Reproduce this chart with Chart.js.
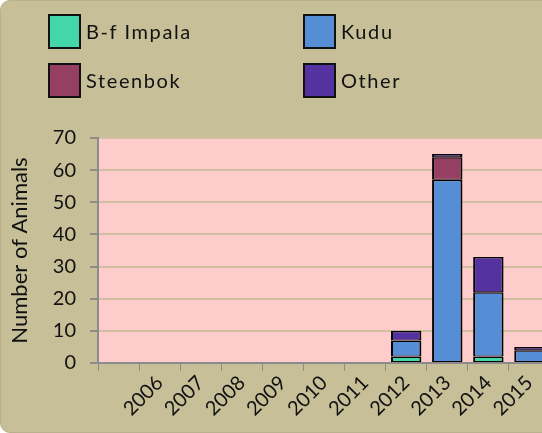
<!DOCTYPE html>
<html>
<head>
<meta charset="utf-8">
<script src="https://cdn.jsdelivr.net/npm/chart.js@4/dist/chart.umd.min.js"></script>
<style>
  html, body { margin: 0; padding: 0; background: #fff; overflow: hidden; }
  #frame {
    position: absolute; left: 0; top: 0; width: 600px; height: 431px;
    background: #c6bf98; border: 1px solid #b8b08a; border-radius: 10px; overflow: hidden;
  }
  #wrap { position: absolute; left: 0; top: 0; width: 560px; height: 433px; }
  .leg { position: absolute; font-family: Lato, sans-serif; font-size: 20px; color: #111; letter-spacing: 1.6px; }
  .leg span.box {
    position: absolute; left: 0; top: 0; width: 29px; height: 31px; border: 2px solid #111;
  }
  .leg span.txt { position: absolute; left: 38px; top: 5px; white-space: nowrap; }
</style>
</head>
<body>
<div id="frame">
  <div id="wrap"><canvas id="chartAnimals"></canvas></div>
  <div id="legend"></div>
</div>
<script>
// years along the x axis (first slot has no label)
var years = ['', '2006', '2007', '2008', '2009', '2010', '2011', '2012', '2013', '2014', '2015']
var impala = [null, null, null, null, null, null, null, 2, null, 2, null]
var kudu = [null, null, null, null, null, null, null, 5, 57, 20, 4]
var steenbok = [null, null, null, null, null, null, null, null, 7, null, null]
var other = [null, null, null, null, null, null, null, 3, 1, 11, 1]
var yTicks = [0, 10, 20, 30, 40, 50, 60, 70]

var seriesNames = ['B-f Impala', 'Kudu', 'Steenbok', 'Other']
var seriesColors = ['#42d6a8', '#558ed5', '#953f63', '#5432a0']

// legend in a 2x2 grid like the original
var legendPos = [[47, 13], [302, 13], [47, 62], [302, 62]]
var legendEl = document.getElementById('legend')
seriesNames.forEach(function (name, i) {
  var d = document.createElement('div')
  d.className = 'leg'
  d.style.left = legendPos[i][0] + 'px'
  d.style.top = legendPos[i][1] + 'px'
  d.innerHTML = '<span class="box" style="background:' + seriesColors[i] + '"></span><span class="txt">' + name + '</span>'
  legendEl.appendChild(d)
})

var plotBackground = {
  id: 'plotBackground',
  beforeDraw: function (chart) {
    var a = chart.chartArea
    var ctx = chart.ctx
    ctx.save()
    ctx.fillStyle = '#ffcccc'
    ctx.fillRect(a.left, a.top, a.right - a.left, a.bottom - a.top)
    ctx.restore()
  }
}

function makeSet(label, data, color) {
  return {
    label: label,
    data: data,
    backgroundColor: color,
    borderColor: '#000',
    borderWidth: { left: 2, right: 2, top: 1.5, bottom: 1 },
    borderSkipped: false,
    categoryPercentage: 1,
    barPercentage: 0.74
  }
}

var chartAnimalsCanvas = document.getElementById('chartAnimals').getContext('2d')
new Chart(chartAnimalsCanvas, {
  type: 'bar',
  data: {
    labels: years,
    datasets: [
      makeSet(seriesNames[0], impala, seriesColors[0]),
      makeSet(seriesNames[1], kudu, seriesColors[1]),
      makeSet(seriesNames[2], steenbok, seriesColors[2]),
      makeSet(seriesNames[3], other, seriesColors[3])
    ]
  },
  plugins: [plotBackground],
  options: {
    responsive: true,
    maintainAspectRatio: false,
    animation: false,
    layout: { padding: { top: 137, left: 0, right: 11, bottom: 0 } },
    plugins: {
      legend: { display: false },
      tooltip: { enabled: false }
    },
    scales: {
      x: {
        stacked: true,
        afterFit: function (s) { s.height = 71 },
        grid: { drawOnChartArea: false, tickLength: 8, tickColor: '#8c8c8c', offset: true },
        border: { color: '#8c8c8c', width: 2 },
        ticks: {
          color: '#111',
          font: { family: 'Lato', size: 20 },
          minRotation: 45, maxRotation: 45,
          autoSkip: false,
          padding: 0
        }
      },
      y: {
        stacked: true,
        min: 0, max: 70,
        afterFit: function (s) { s.width = 97 },
        afterBuildTicks: function (s) { s.ticks = yTicks.map(function (v) { return { value: v } }) },
        grid: { color: '#d2bea0', lineWidth: 2, tickLength: 8, tickColor: '#8c8c8c' },
        border: { color: '#8c8c8c', width: 2 },
        title: {
          display: true,
          text: 'Number of Animals',
          color: '#111',
          font: { family: 'Lato', size: 22 },
          padding: { top: 6, bottom: 0 }
        },
        ticks: {
          color: '#111',
          font: { family: 'Lato', size: 20 },
          padding: 14
        }
      }
    }
  }
})
</script>
</body>
</html>
